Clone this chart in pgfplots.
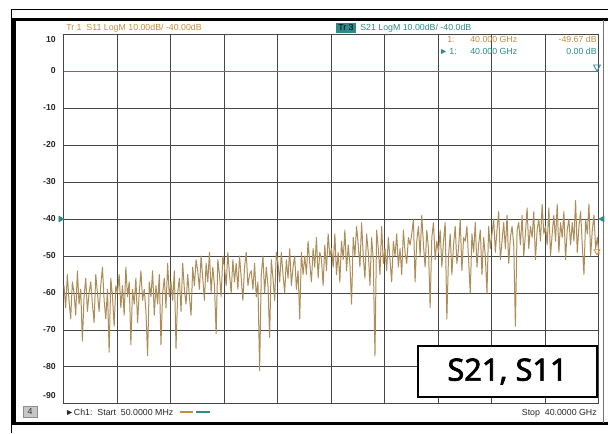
\documentclass[border=0pt]{standalone}
\usepackage{fontspec}
\setmainfont{Liberation Sans}
\newfontfamily\boxfont{Noto Sans}[AutoFakeBold=2.2]
\usepackage{pgfplots}
\pgfplotsset{compat=1.18}
\usepackage{pgfplotstable}
\definecolor{trc}{RGB}{172,140,88}
\definecolor{trA}{RGB}{196,140,62}
\definecolor{tealc}{RGB}{46,138,138}
\definecolor{gridc}{RGB}{70,70,70}

% S11 trace, 0.125 GHz steps from 0 to 40 GHz (dB)
\pgfplotstableread[header=false,row sep=\\]{
-58\\ -64\\ -55\\ -62\\ -67\\ -57\\ -60\\ -66\\ -54\\ -63\\ -59\\ -73\\ -61\\ -56\\ -65\\ -60\\
-57\\ -63\\ -68\\ -55\\ -60\\ -65\\ -58\\ -53\\ -62\\ -67\\ -59\\ -76\\ -56\\ -61\\ -69\\ -58\\
-60\\ -55\\ -64\\ -58\\ -66\\ -53\\ -61\\ -57\\ -74\\ -59\\ -63\\ -56\\ -68\\ -60\\ -54\\ -62\\
-59\\ -65\\ -77\\ -57\\ -61\\ -54\\ -66\\ -58\\ -63\\ -55\\ -74\\ -60\\ -56\\ -64\\ -52\\ -61\\
-57\\ -62\\ -54\\ -75\\ -60\\ -56\\ -65\\ -52\\ -59\\ -63\\ -55\\ -61\\ -66\\ -53\\ -58\\ -51\\
-54\\ -59\\ -50\\ -56\\ -62\\ -52\\ -57\\ -49\\ -60\\ -53\\ -58\\ -71\\ -51\\ -55\\ -61\\ -50\\
-53\\ -58\\ -49\\ -55\\ -60\\ -51\\ -57\\ -52\\ -59\\ -50\\ -56\\ -62\\ -53\\ -49\\ -58\\ -55\\
-54\\ -59\\ -52\\ -61\\ -57\\ -81\\ -55\\ -50\\ -60\\ -53\\ -58\\ -72\\ -51\\ -56\\ -62\\ -49\\
-52\\ -57\\ -49\\ -55\\ -60\\ -51\\ -56\\ -48\\ -58\\ -53\\ -50\\ -59\\ -54\\ -67\\ -49\\ -55\\
-50\\ -55\\ -46\\ -52\\ -57\\ -48\\ -53\\ -45\\ -56\\ -49\\ -51\\ -58\\ -47\\ -54\\ -44\\ -50\\
-48\\ -53\\ -44\\ -55\\ -49\\ -57\\ -46\\ -51\\ -43\\ -54\\ -47\\ -52\\ -63\\ -45\\ -50\\ -42\\
-47\\ -53\\ -41\\ -50\\ -56\\ -44\\ -49\\ -58\\ -45\\ -51\\ -77\\ -43\\ -48\\ -55\\ -42\\ -52\\
-48\\ -54\\ -45\\ -51\\ -57\\ -46\\ -50\\ -44\\ -53\\ -48\\ -55\\ -43\\ -49\\ -52\\ -45\\ -47\\
-44\\ -40\\ -57\\ -46\\ -42\\ -50\\ -39\\ -47\\ -53\\ -43\\ -48\\ -64\\ -45\\ -41\\ -51\\ -46\\
-49\\ -43\\ -53\\ -46\\ -41\\ -67\\ -50\\ -44\\ -55\\ -47\\ -42\\ -52\\ -48\\ -40\\ -54\\ -45\\
-46\\ -42\\ -51\\ -60\\ -44\\ -49\\ -41\\ -53\\ -47\\ -43\\ -55\\ -45\\ -50\\ -60\\ -42\\ -48\\
-44\\ -40\\ -49\\ -43\\ -38\\ -51\\ -46\\ -41\\ -48\\ -39\\ -52\\ -45\\ -42\\ -47\\ -69\\ -43\\
-41\\ -47\\ -39\\ -50\\ -44\\ -37\\ -48\\ -42\\ -45\\ -38\\ -51\\ -43\\ -40\\ -46\\ -36\\ -44\\
-42\\ -47\\ -37\\ -50\\ -44\\ -39\\ -46\\ -36\\ -49\\ -41\\ -45\\ -38\\ -51\\ -43\\ -40\\ -47\\
-41\\ -46\\ -35\\ -49\\ -42\\ -38\\ -47\\ -55\\ -40\\ -44\\ -36\\ -50\\ -43\\ -39\\ -48\\ -45\\
-49.67\\
}\sone

\begin{document}
\begin{tikzpicture}
\begin{scope}[x=0.75pt,y=0.75pt]
\useasboundingbox (0,0) rectangle (608,433);
% frame
\draw[line width=0.75pt] (11,423) -- (608,423);
\draw[line width=0.75pt] (11.5,0) -- (11.5,423);
\draw[line width=2.25pt] (11,413) -- (608,413);
\fill (11,10) rectangle (15.5,413);
\draw[line width=2.25pt] (11,10) -- (608,10);
\draw[line width=0.75pt, black!55] (603.5,10) -- (603.5,413);
\end{scope}

\begin{axis}[at={(48pt,21.75pt)}, anchor=south west, scale only axis,
  width=401.25pt, height=277.5pt,
  xmin=0, xmax=40, ymin=-90, ymax=10,
  xtick={0,4,...,40}, ytick={-90,-80,...,10},
  xticklabels={}, yticklabels={}, major tick length=0pt,
  grid=major, grid style={gridc, line width=0.75pt},
  axis line style={gridc, line width=0.75pt},
  clip=false]
\addplot[tealc, line width=0.75pt] coordinates {(0,0) (40,0)};
\addplot[trc, line width=0.75pt, line join=round] table[x expr=\coordindex*0.125, y index=0] {\sone};
\addplot[only marks, mark=triangle, mark size=3pt, tealc,
  mark options={xshift=-1.5pt, yshift=3pt, rotate=180, line width=0.6pt}] coordinates {(40,0)};
\addplot[only marks, mark=triangle, mark size=2.5pt, trA,
  mark options={xshift=-1.5pt, yshift=2.5pt, rotate=180, line width=0.6pt}] coordinates {(40,-49.67)};
\addplot[only marks, mark=triangle*, mark size=2.5pt, tealc,
  mark options={xshift=-2.5pt, rotate=-90}] coordinates {(0,-40)};
\addplot[only marks, mark=triangle*, mark size=2.5pt, tealc,
  mark options={xshift=2.5pt, rotate=90}] coordinates {(40,-40)};
\end{axis}

\begin{scope}[x=0.75pt,y=0.75pt]
% y labels
\begin{scope}[every node/.style={anchor=east, inner sep=0pt, font=\fontsize{6.5}{7}\selectfont\bfseries, text=black!85}]
\node at (56,{433-40}) {10};
\foreach \v in {0,-10,-20,-30,-40,-50,-60,-70,-80}{
  \node at (56,{362+3.7*\v}) {\v};
}
\node at (56,{433-396}) {-90};
\end{scope}
% header
\begin{scope}[every node/.style={inner sep=0pt, font=\fontsize{6.6}{7}\selectfont}]
\node[anchor=base west, text=trA] at (66,402) {Tr 1\ \ S11 LogM 10.00dB/ -40.00dB};
\fill[tealc] (336,400) rectangle (356,410);
\node[anchor=base west, text=black] at (338,402) {Tr 3};
\node[anchor=base west, text=tealc] at (360,402) {S21 LogM 10.00dB/ -40.0dB};
\node[anchor=base west, text=trA] at (447,390) {1:};
\node[anchor=base west, text=trA] at (470,390) {40.000 GHz};
\node[anchor=base east, text=trA] at (597,390) {-49.67 dB};
\node[anchor=base west, text=tealc] at (439,378) {►\,1:};
\node[anchor=base west, text=tealc] at (470,378) {40.000 GHz};
\node[anchor=base east, text=tealc] at (597,378) {0.00 dB};
% footer
\draw[fill=black!22, draw=black!45, line width=0.5pt] (23,16) rectangle (37,27);
\node[text=black!80] at (30,21.5) {4};
\node[anchor=base west, text=black!85] at (65,18) {►Ch1:\ \ Start\ \ 50.0000 MHz};
\draw[trA, line width=1pt] (180,21) -- (193,21);
\draw[tealc, line width=1pt] (196,21) -- (210,21);
\node[anchor=base east, text=black!85] at (597,18) {Stop\ \ 40.0000 GHz};
\end{scope}
% label box
\draw[line width=1.5pt, fill=white] (418,36) rectangle (597,87);
\node at (507.5,61.5) {\boxfont\bfseries\fontsize{23}{26}\selectfont S21, S11};
\end{scope}
\end{tikzpicture}
\end{document}
